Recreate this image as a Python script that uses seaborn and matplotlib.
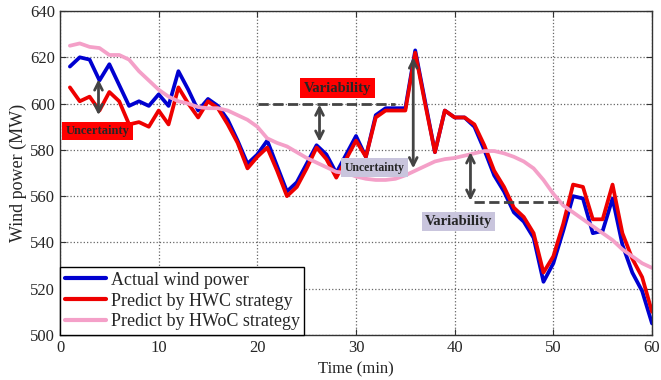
import numpy as np
import pandas as pd
import matplotlib
matplotlib.use("Agg")
import matplotlib.pyplot as plt
import seaborn as sns

time_min = list(range(1, 61))
actual = [616, 620, 619, 610, 617, 608, 599, 601, 599, 604,
          599, 614, 606, 597, 602, 599, 593, 584, 574, 578,
          584, 573, 562, 566, 574, 582, 578, 570, 578, 586,
          577, 595, 598, 598, 598, 623, 601, 579, 597, 594,
          594, 590, 580, 569, 562, 553, 549, 542, 523, 531,
          545, 560, 559, 544, 545, 559, 539, 527, 519, 505]
hwc = [607, 601, 603, 597, 605, 601, 591, 592, 590, 597,
       591, 607, 600, 594, 601, 598, 591, 583, 572, 577,
       581, 571, 560, 564, 572, 581, 576, 568, 576, 584,
       577, 594, 597, 597, 597, 622, 600, 579, 597, 594,
       594, 591, 582, 571, 564, 555, 551, 544, 527, 534,
       548, 565, 564, 550, 550, 565, 544, 533, 525, 510]
hwoc = [625, 626, 624.5, 624, 621, 621, 619, 614, 610, 606,
        603, 601, 600, 598.5, 598, 598, 597, 595, 593, 590,
        585, 583, 581.5, 579, 576.5, 574.5, 572.5, 570.5, 570, 568.5,
        567.5, 567, 567, 567.5, 569, 571, 573, 575, 576, 576.5,
        577.5, 578.5, 579.5, 579.5, 578.5, 577, 575, 572, 567, 561,
        556, 553, 550, 547, 544, 541, 537, 534, 531, 529]
series_names = ["Actual wind power", "Predict by HWC strategy", "Predict by HWoC strategy"]
x_ticks = [0, 10, 20, 30, 40, 50, 60]
y_ticks = [500, 520, 540, 560, 580, 600, 620, 640]

df = pd.DataFrame({
    "Time": time_min * 3,
    "Power": actual + hwc + hwoc,
    "Series": [series_names[0]] * 60 + [series_names[1]] * 60 + [series_names[2]] * 60,
})

sns.set_style("ticks")
plt.rcParams["font.family"] = ["Liberation Serif", "DejaVu Serif"]

fig = plt.figure(figsize=(6.61, 3.80), dpi=100)
ax = fig.add_axes([0.0908, 0.1184, 0.8956, 0.8526])

palette = {series_names[0]: "#0000d0", series_names[1]: "#ee0000", series_names[2]: "#f4a0c8"}
sns.lineplot(data=df, x="Time", y="Power", hue="Series", palette=palette,
             linewidth=2.7, ax=ax, legend=True)

ax.set_xlim(0, 60)
ax.set_ylim(500, 640)
ax.set_xticks(x_ticks)
ax.set_yticks(y_ticks)
ax.tick_params(direction="in", top=True, right=True, labelsize=12, length=4, color="#333333")
ax.grid(True, linestyle=":", color="#666666", linewidth=0.9)
for s in ax.spines.values():
    s.set_color("#333333")
    s.set_linewidth(1.0)
ax.set_xlabel("Time (min)", fontsize=12, labelpad=4)
ax.set_ylabel("Wind power (MW)", fontsize=13, labelpad=2)

leg = ax.legend(loc="lower left", borderaxespad=0, fancybox=False, edgecolor="black",
                framealpha=1, fontsize=13, handlelength=2.3, labelspacing=0.22,
                borderpad=0.25, handletextpad=0.25)
leg.get_frame().set_linewidth(1.0)
for line in leg.get_lines():
    line.set_linewidth(3)

arrow_col = "#444444"
arr = dict(arrowstyle="<->", color=arrow_col, lw=2, mutation_scale=14, shrinkA=0, shrinkB=0)

# annotations
ax.annotate("", xy=(3.9, 610.5), xytext=(3.9, 595), arrowprops=arr)
ax.text(3.8, 588.2, "Uncertainty", fontsize=9, fontweight="bold", ha="center", va="center",
        bbox=dict(boxstyle="square,pad=0.25", fc="#ff0000", ec="none"))

ax.plot([20.1, 34], [600, 600], linestyle="--", color=arrow_col, lw=2)
ax.annotate("", xy=(26.3, 599.6), xytext=(26.3, 583.5), arrowprops=arr)
ax.text(28.1, 606.6, "Variability", fontsize=10.5, fontweight="bold", ha="center", va="center",
        bbox=dict(boxstyle="square,pad=0.25", fc="#ff0000", ec="none"))

ax.annotate("", xy=(35.8, 620), xytext=(35.8, 572), arrowprops=arr)
ax.text(31.9, 572.3, "Uncertainty", fontsize=8.5, fontweight="bold", ha="center", va="center",
        bbox=dict(boxstyle="square,pad=0.3", fc="#c9c5dd", ec="none"))

ax.plot([42.0, 51.0], [557.6, 557.6], linestyle="--", color=arrow_col, lw=2)
ax.annotate("", xy=(41.6, 579), xytext=(41.6, 558), arrowprops=arr)
ax.text(40.4, 549.2, "Variability", fontsize=10.5, fontweight="bold", ha="center", va="center",
        bbox=dict(boxstyle="square,pad=0.2", fc="#c9c5dd", ec="none"))

fig.savefig("out.png", dpi=100)
